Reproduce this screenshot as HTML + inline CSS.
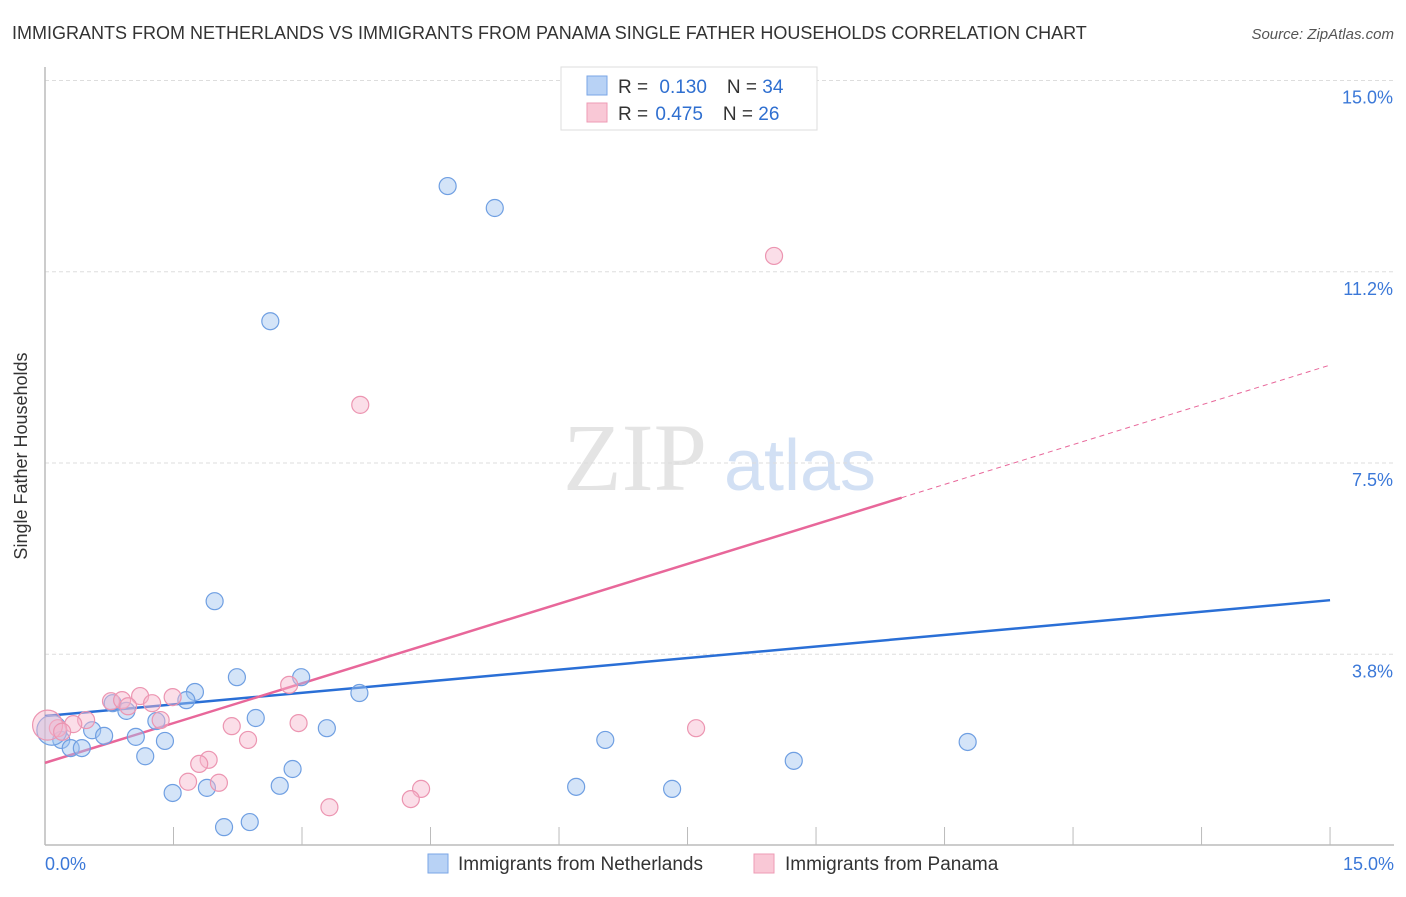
<!DOCTYPE html>
<html><head><meta charset="utf-8"><style>
html,body{margin:0;padding:0;background:#fff;}
body{width:1406px;height:892px;overflow:hidden;font-family:"Liberation Sans",sans-serif;}
</style></head><body>
<svg id="chart" width="1406" height="892" xmlns="http://www.w3.org/2000/svg">
<text x="12" y="39" font-size="18" fill="#333">IMMIGRANTS FROM NETHERLANDS VS IMMIGRANTS FROM PANAMA SINGLE FATHER HOUSEHOLDS CORRELATION CHART</text>
<text x="1394" y="39" font-size="15" fill="#555" font-style="italic" text-anchor="end">Source: ZipAtlas.com</text>
<text x="27" y="456" font-size="18" fill="#333" text-anchor="middle" transform="rotate(-90 27 456)">Single Father Households</text>
<g>
<text x="635" y="490" font-size="96" font-family="Liberation Serif,serif" fill="#e4e4e4" text-anchor="middle">ZIP</text>
<text x="800" y="490" font-size="72" fill="#d2e0f4" text-anchor="middle">atlas</text>
</g>
<g id="grid"></g><g id="axes"></g><g id="lines"></g><g id="points"></g>
<g>
<rect x="561" y="67" width="256" height="63" fill="#fff" stroke="#ddd"/>
<rect x="587" y="76" width="20" height="19" fill="#b8d2f5" stroke="#7aa6e6"/>
<rect x="587" y="103" width="20" height="19" fill="#f9c8d6" stroke="#ee9bb5"/>
<text x="618" y="93" font-size="19" fill="#333">R = <tspan fill="#2f6fd0" dx="6">0.130</tspan><tspan dx="20" fill="#333">N = </tspan><tspan fill="#2f6fd0">34</tspan></text>
<text x="618" y="120" font-size="19" fill="#333">R = <tspan fill="#2f6fd0" dx="2">0.475</tspan><tspan dx="20" fill="#333">N = </tspan><tspan fill="#2f6fd0">26</tspan></text>
</g>
<g>
<rect x="428" y="854" width="20" height="19" fill="#b8d2f5" stroke="#7aa6e6"/>
<text x="458" y="870" font-size="19" fill="#333">Immigrants from Netherlands</text>
<rect x="754" y="854" width="20" height="19" fill="#f9c8d6" stroke="#ee9bb5"/>
<text x="785" y="870" font-size="19" fill="#333">Immigrants from Panama</text>
</g>
</svg>
<script>
const blueX=[4.70,5.25,2.63,1.98,2.24,2.99,1.75,3.67,1.65,0.79,0.95,2.46,1.30,0.55,3.29,0.69,1.06,1.40,6.54,10.77,0.19,0.30,0.43,1.17,2.89,8.74,1.89,2.74,6.20,1.49,7.32,2.09,2.39,0.08];
const blueY=[12.93,12.50,10.28,4.79,3.30,3.30,3.01,2.99,2.85,2.79,2.64,2.50,2.44,2.26,2.30,2.15,2.13,2.05,2.07,2.03,2.07,1.91,1.91,1.75,1.50,1.66,1.13,1.17,1.15,1.03,1.11,0.36,0.46,2.26];
const pinkX=[0.77,0.90,1.11,1.49,1.25,0.97,1.35,0.48,0.33,0.15,2.85,2.18,2.37,2.96,7.60,1.91,1.80,2.03,1.67,4.39,4.27,3.32,8.51,3.68,0.03,0.20];
const pinkY=[2.83,2.85,2.93,2.91,2.79,2.73,2.46,2.46,2.38,2.30,3.15,2.34,2.07,2.40,2.30,1.68,1.60,1.23,1.25,1.11,0.91,0.75,11.56,8.64,2.36,2.23];
const blueTrend=[2.54,4.81];
const pinkTrend=[1.62,9.42];
const pinkSolidEnd=10.0;
const yTicks=[3.75,7.5,11.25,15];
const yTickLabels=["3.8%","7.5%","11.2%","15.0%"];
const xTicks=[0,1.5,3,4.5,6,7.5,9,10.5,12,13.5,15];
const NS="http://www.w3.org/2000/svg";
const fx=v=>45+v*85.67, fy=v=>845.5-v*51.0;
function mk(tag,attrs,parent){const e=document.createElementNS(NS,tag);for(const k in attrs)e.setAttribute(k,attrs[k]);document.getElementById(parent).appendChild(e);return e;}
yTicks.forEach((t,i)=>{
 const l=mk('line',{x1:45,x2:1394,y1:fy(t),y2:fy(t),stroke:'#ddd','stroke-dasharray':'4,3'},'grid');
 
 
 const tx=mk('text',{x:1393,y:fy(t)+23,'font-size':18,fill:'#3b78d8','text-anchor':'end'},'grid');
 tx.textContent=yTickLabels[i];
 
 
});
let a=mk('line',{x1:45,x2:45,y1:67,y2:845,stroke:'#bbb','stroke-width':1.5},'axes');


a=mk('line',{x1:45,x2:1394,y1:845,y2:845,stroke:'#bbb','stroke-width':1.5},'axes');


xTicks.forEach(t=>{const k=mk('line',{x1:fx(t),x2:fx(t),y1:827,y2:845,stroke:'#bbb'},'axes');
 
 });
let t0=mk('text',{x:45,y:870,'font-size':18,fill:'#3b78d8'},'axes');t0.textContent='0.0%';


let t1=mk('text',{x:1394,y:870,'font-size':18,fill:'#3b78d8','text-anchor':'end'},'axes');t1.textContent='15.0%';


function pt(x,y,r,fill,stroke,name){const c=mk('circle',{cx:fx(x),cy:fy(y),r:r,fill:fill,stroke:stroke,'stroke-width':1.2},'points');
 
 }
blueX.forEach((x,i)=>pt(x,blueY[i],i===blueX.length-1?15:8.5,'rgba(160,196,240,0.45)','#6f9fe2','point-netherlands'));
pinkX.forEach((x,i)=>pt(x,pinkY[i],i===24?15:8.5,'rgba(246,182,203,0.45)','#ec95b1','point-panama'));
let bl=mk('line',{x1:fx(0),y1:fy(blueTrend[0]),x2:fx(15),y2:fy(blueTrend[1]),stroke:'#2a6fd6','stroke-width':2.5},'lines');


const pAt=x=>pinkTrend[0]+(pinkTrend[1]-pinkTrend[0])*x/15;
let pl=mk('line',{x1:fx(0),y1:fy(pinkTrend[0]),x2:fx(pinkSolidEnd),y2:fy(pAt(pinkSolidEnd)),stroke:'#e8679a','stroke-width':2.5},'lines');


let pd=mk('line',{x1:fx(pinkSolidEnd),y1:fy(pAt(pinkSolidEnd)),x2:fx(15),y2:fy(pinkTrend[1]),stroke:'#e8679a','stroke-width':1,'stroke-dasharray':'5,4'},'lines');


</script>
</body></html>
